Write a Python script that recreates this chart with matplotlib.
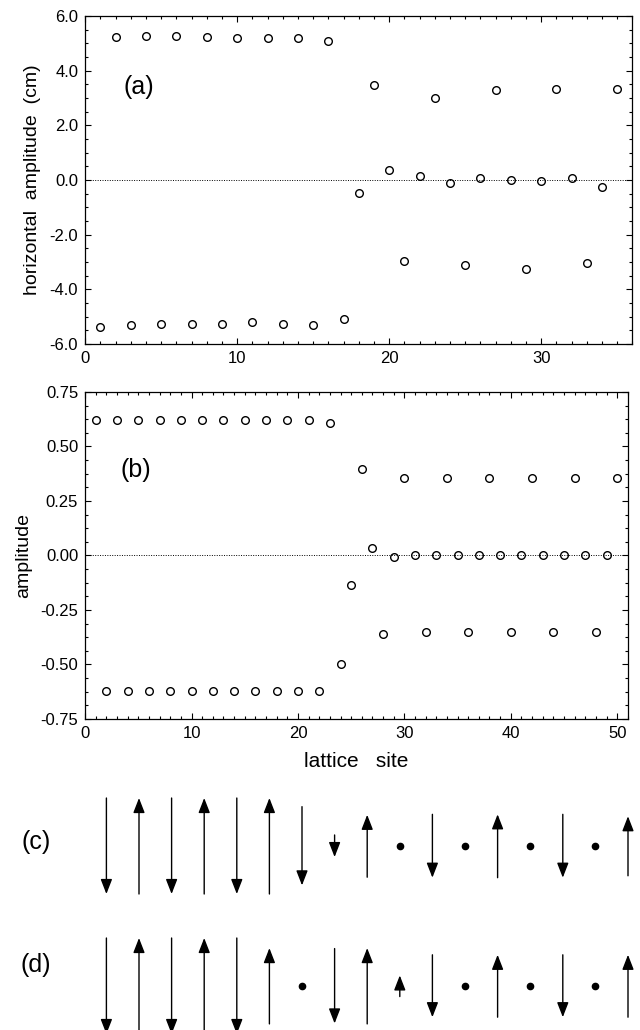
import matplotlib
matplotlib.use('Agg')
import matplotlib.pyplot as plt
from matplotlib.ticker import MultipleLocator, FormatStrFormatter

plt.rcParams['font.family'] = ['Liberation Sans', 'DejaVu Sans']
plt.rcParams['axes.unicode_minus'] = False

# panel (a): horizontal amplitude (cm) vs lattice site
sites_a = list(range(1, 36))
amp_a = [-5.36, 5.22, -5.32, 5.28, -5.27, 5.28, -5.26, 5.22, -5.26, 5.18,
         -5.21, 5.21, -5.26, 5.21, -5.32, 5.07, -5.08, -0.46, 3.46, 0.37,
         -2.98, 0.16, 3.00, -0.11, -3.10, 0.07, 3.29, -0.01, -3.26, -0.05,
         3.34, 0.07, -3.05, -0.27, 3.33]

# panel (b): amplitude vs lattice site
sites_b = list(range(1, 51))
amp_b = [0.623, -0.623, 0.623, -0.623, 0.623, -0.623, 0.623, -0.623, 0.623, -0.623,
         0.623, -0.623, 0.623, -0.623, 0.623, -0.623, 0.623, -0.623, 0.623, -0.623,
         0.623, -0.623, 0.607, -0.500, -0.134, 0.395, 0.034, -0.360, -0.009, 0.354,
         0.002, -0.350, 0.000, 0.354, 0.000, -0.350, 0.000, 0.354, 0.000, -0.350,
         0.000, 0.354, 0.000, -0.350, 0.000, 0.354, 0.000, -0.350, 0.000, 0.354]

# panels (c) and (d): schematic displacement arrows (relative length, sign = direction)
arrows_c = [-1, 1, -1, 1, -1, 1, -0.82, -0.23, 0.65, 0, -0.66, 0, 0.66, 0, -0.66, 0, 0.62]
arrows_d = [-1, 1, -1, 1, -1, 0.79, 0, -0.78, 0.79, 0.22, -0.65, 0, 0.65, 0, -0.65, 0, 0.65]

fig = plt.figure(figsize=(6.4, 10.3), dpi=100)


def style_axes(ax):
    ax.tick_params(which='both', direction='in', top=True, right=True,
                   labelsize=12, width=0.8, pad=5)
    ax.tick_params(which='major', length=4.5)
    ax.tick_params(which='minor', length=2.2)
    for s in ax.spines.values():
        s.set_linewidth(0.9)
    ax.axhline(0, color='k', lw=0.7, ls=(0, (1, 1.5)), zorder=0)


# (a)
ax1 = fig.add_axes([0.133, 0.666, 0.855, 0.3184])
ax1.plot(sites_a, amp_a, 'o', mfc='none', mec='k', ms=5.5, mew=1.0)
ax1.set_xlim(0, 36)
ax1.set_ylim(-6, 6)
ax1.xaxis.set_major_locator(MultipleLocator(10))
ax1.xaxis.set_minor_locator(MultipleLocator(1))
ax1.yaxis.set_major_locator(MultipleLocator(2))
ax1.yaxis.set_minor_locator(MultipleLocator(0.5))
ax1.yaxis.set_major_formatter(FormatStrFormatter('%.1f'))
style_axes(ax1)
ax1.set_ylabel('horizontal  amplitude  (cm)', fontsize=14, labelpad=6)
ax1.text(3.5, 3.4, '(a)', fontsize=18, ha='center', va='center')

# (b)
ax2 = fig.add_axes([0.133, 0.302, 0.848, 0.3175])
ax2.plot(sites_b, amp_b, 'o', mfc='none', mec='k', ms=5.5, mew=1.0)
ax2.set_xlim(0, 51)
ax2.set_ylim(-0.75, 0.75)
ax2.xaxis.set_major_locator(MultipleLocator(10))
ax2.xaxis.set_minor_locator(MultipleLocator(1))
ax2.yaxis.set_major_locator(MultipleLocator(0.25))
ax2.yaxis.set_minor_locator(MultipleLocator(0.0625))
ax2.yaxis.set_major_formatter(FormatStrFormatter('%.2f'))
style_axes(ax2)
ax2.set_ylabel('amplitude', fontsize=14, labelpad=6)
ax2.set_xlabel('lattice   site', fontsize=15, labelpad=8)
ax2.text(4.8, 0.39, '(b)', fontsize=18, ha='center', va='center')

# (c), (d) arrow diagrams
ax3 = fig.add_axes([0.16625, 0.0, 0.815, 0.2427])
ax3.set_xlim(0, 16)
ax3.set_ylim(-1.84, 0.66)
ax3.axis('off')

L = 0.96
rows = [(0.0, arrows_c, '(c)', 0.04), (-1.40, arrows_d, '(d)', 0.21)]
for y0, vals, lab, dy in rows:
    for i, a in enumerate(vals):
        if a == 0:
            ax3.plot(i, y0, 'o', color='k', ms=4.5, clip_on=False)
        else:
            ax3.annotate('', xy=(i, y0 + a * L / 2), xytext=(i, y0 - a * L / 2),
                         arrowprops=dict(arrowstyle='-|>,head_length=0.9,head_width=0.35',
                                         lw=1.0, color='k', mutation_scale=10,
                                         shrinkA=0, shrinkB=0),
                         annotation_clip=False)
    ax3.text(-2.16, y0 + dy, lab, fontsize=18, ha='center', va='center')

fig.savefig('out.png', dpi=100)
